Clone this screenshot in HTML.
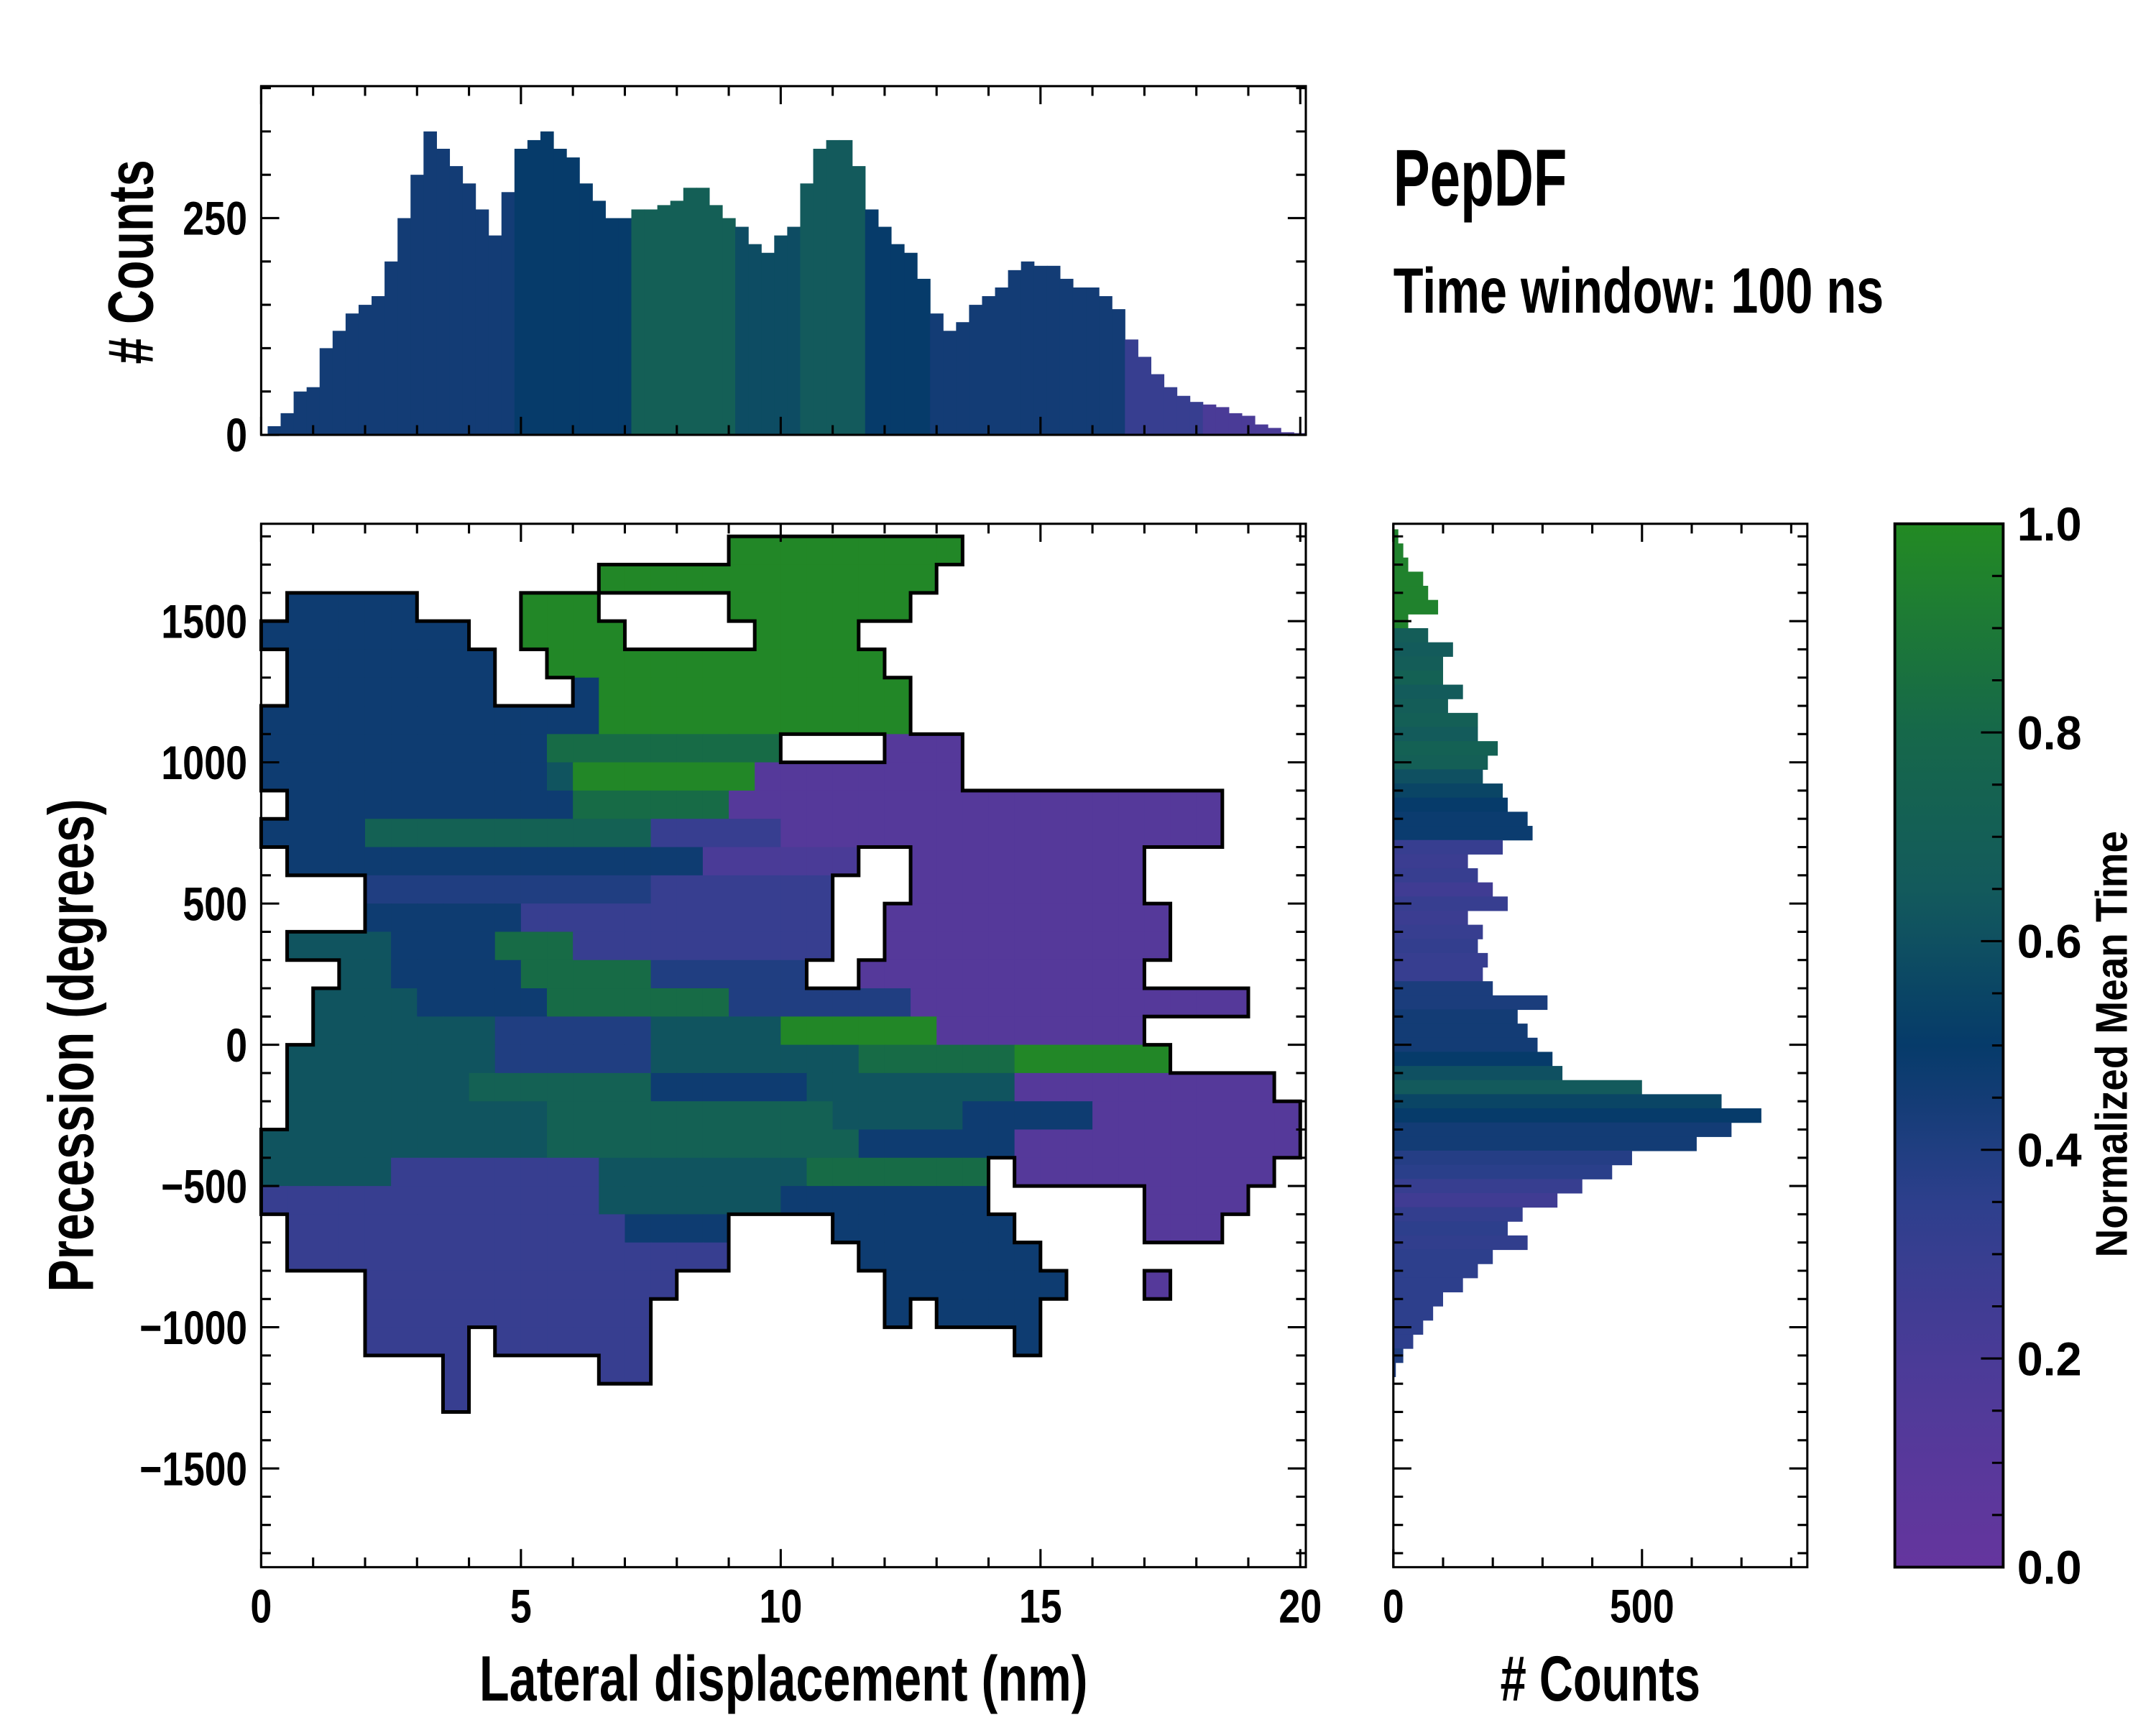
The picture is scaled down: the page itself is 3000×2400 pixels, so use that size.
<!DOCTYPE html>
<html><head><meta charset="utf-8"><style>
html,body{margin:0;padding:0;background:#fff;}
svg{display:block;}
text{font-family:"Liberation Sans Narrow","Liberation Sans",sans-serif;font-weight:bold;fill:#000;}
</style></head><body>
<svg id="fig" xmlns="http://www.w3.org/2000/svg" width="3000" height="2400" viewBox="0 0 1552 1241.6">
<rect x="0" y="0" width="1552" height="1241.6" fill="#fff"/>
<g id="heat"></g>
<g id="outline"></g>
<g id="tophist"></g>
<g id="righthist"></g>
<defs><linearGradient id="cbgrad" x1="0" y1="1" x2="0" y2="0"></linearGradient></defs>
<rect x="1364" y="377" width="78" height="751" fill="url(#cbgrad)" stroke="#000" stroke-width="2"/>
<g id="axes"></g>
<text x="1003" y="148" font-size="58" textLength="125" lengthAdjust="spacingAndGlyphs">PepDF</text>
<text x="1003" y="225" font-size="46" textLength="353" lengthAdjust="spacingAndGlyphs">Time window: 100 ns</text>
<text x="345" y="1224" font-size="46" textLength="438" lengthAdjust="spacingAndGlyphs">Lateral displacement (nm)</text>
<text transform="translate(67,930) rotate(-90)" x="0" y="0" font-size="46" textLength="355" lengthAdjust="spacingAndGlyphs">Precession (degrees)</text>
<text transform="translate(110,262) rotate(-90)" x="0" y="0" font-size="46" textLength="147" lengthAdjust="spacingAndGlyphs"># Counts</text>
<text x="1080" y="1224" font-size="46" textLength="144" lengthAdjust="spacingAndGlyphs"># Counts</text>
<text transform="translate(1531,905) rotate(-90)" x="0" y="0" font-size="32" textLength="307" lengthAdjust="spacingAndGlyphs">Normalized Mean Time</text>
</svg>
<script>
// ---------- data ----------
const heatRows = [
 [[18,26,9]],
 [[13,25,9]],
 [[1,5,5],[10,12,9],[18,24,9]],
 [[0,7,5],[10,13,9],[19,22,9]],
 [[1,8,5],[11,23,9]],
 [[1,8,5],[12,12,5],[13,24,9]],
 [[0,12,5],[13,24,9]],
 [[0,10,5],[11,19,8],[24,26,1]],
 [[0,10,5],[11,11,6],[12,18,9],[19,26,1]],
 [[1,11,5],[12,17,8],[18,36,1]],
 [[0,3,5],[4,14,7],[15,19,3],[20,36,1]],
 [[1,16,5],[17,22,2],[25,33,1]],
 [[4,14,4],[15,21,3],[25,33,1]],
 [[4,9,5],[10,21,3],[24,34,1]],
 [[1,4,6],[5,8,5],[9,11,8],[12,21,3],[24,34,1]],
 [[3,4,6],[5,9,5],[10,14,8],[15,20,4],[23,33,1]],
 [[2,5,6],[6,10,5],[11,17,8],[18,24,4],[25,37,1]],
 [[2,8,6],[9,14,4],[15,19,6],[20,25,9],[26,33,1]],
 [[1,8,6],[9,14,4],[15,22,6],[23,28,8],[29,34,9]],
 [[1,7,6],[8,14,7],[15,20,5],[21,28,6],[29,38,1]],
 [[1,10,6],[11,21,7],[22,26,6],[27,31,5],[32,39,1]],
 [[0,10,6],[11,22,7],[23,28,5],[29,39,1]],
 [[0,4,6],[5,12,3],[13,20,6],[21,27,8],[29,38,1]],
 [[0,12,3],[13,19,6],[20,27,5],[34,37,1]],
 [[1,13,3],[14,17,5],[22,28,5],[34,36,1]],
 [[1,17,3],[23,29,5]],
 [[4,15,3],[24,30,5],[34,34,1]],
 [[4,14,3],[24,24,5],[26,29,5]],
 [[4,7,3],[9,14,3],[29,29,5]],
 [[7,7,3],[13,14,3]],
 [[7,7,3]]
];
const digitValue = [0,0.12,0.2,0.3,0.4,0.47,0.62,0.72,0.82,0.98];
const topHistCounts = [0,10,25,50,55,100,120,140,150,160,200,250,300,350,330,310,290,260,230,280,330,340,350,330,320,290,270,250,250,260,260,265,270,285,285,265,250,240,220,210,230,240,290,330,340,340,310,260,240,220,210,180,140,120,130,150,160,170,190,200,195,195,180,170,170,160,145,110,90,70,55,45,38,35,32,25,22,12,8,3,2];
const topHistTime = [0.45,0.45,0.45,0.45,0.45,0.45,0.45,0.45,0.45,0.45,0.45,0.45,0.45,0.45,0.45,0.45,0.45,0.45,0.45,0.45,0.5,0.5,0.5,0.5,0.5,0.5,0.5,0.5,0.5,0.7,0.7,0.7,0.7,0.7,0.7,0.7,0.7,0.58,0.58,0.58,0.58,0.58,0.65,0.65,0.65,0.65,0.65,0.5,0.5,0.5,0.5,0.5,0.45,0.45,0.45,0.45,0.45,0.45,0.45,0.45,0.45,0.45,0.45,0.45,0.45,0.45,0.45,0.3,0.3,0.3,0.3,0.3,0.3,0.2,0.2,0.2,0.2,0.2,0.2,0.2,0.2];
const rightHistCounts = [10,20,30,60,70,90,30,70,120,100,100,140,110,170,170,210,190,180,220,230,270,280,220,150,170,200,230,150,180,170,190,180,200,310,250,270,290,320,340,500,660,740,680,610,480,440,380,330,260,230,270,200,170,140,100,80,60,40,20,5];
const rightHistTime = [0.95,0.95,0.95,0.95,0.95,0.95,0.95,0.68,0.66,0.68,0.72,0.66,0.68,0.7,0.66,0.72,0.7,0.6,0.55,0.5,0.48,0.48,0.3,0.28,0.3,0.25,0.3,0.28,0.3,0.32,0.3,0.3,0.42,0.42,0.45,0.45,0.45,0.5,0.6,0.65,0.55,0.5,0.45,0.45,0.38,0.36,0.3,0.25,0.32,0.35,0.33,0.35,0.35,0.35,0.35,0.35,0.35,0.35,0.4,0.4];
const mainXTicks = [0,5,10,15,20];
const mainYTicks = [-1500,-1000,-500,0,500,1000,1500];
const topYTicks = [0,250];
const rightXTicks = [0,500];
const cbTicks = [0.0,0.2,0.4,0.6,0.8,1.0];
const mainYLabels = ['\u22121500','\u22121000','\u2212500','0','500','1000','1500'];
const cbLabels = ['0.0','0.2','0.4','0.6','0.8','1.0'];

// ---------- scales ----------
const X = nm => 188 + nm*37.4;
const Y = deg => 752 - deg*0.2033;
const YT = c => 313 - c*0.624;
const XR = c => 1003 + c*0.358;
const YC = v => 1128 - v*751;
const stops = [[0,[101,53,158]],[0.2,[74,59,151]],[0.35,[45,63,140]],[0.5,[6,59,106]],[0.65,[19,90,92]],[0.8,[22,104,74]],[1,[35,138,35]]];
function cmap(v){
  v=Math.max(0,Math.min(1,v));
  for(let i=1;i<stops.length;i++){
    if(v<=stops[i][0]){
      const a=stops[i-1],b=stops[i],t=(v-a[0])/(b[0]-a[0]);
      const c=a[1].map((x,k)=>Math.round(x+(b[1][k]-x)*t));
      return 'rgb('+c.join(',')+')';
    }
  }
  return 'rgb(35,138,35)';
}
const NS='http://www.w3.org/2000/svg';
function mk(tag,attrs,parent){const e=document.createElementNS(NS,tag);for(const k in attrs)e.setAttribute(k,attrs[k]);parent.appendChild(e);return e;}

const grad=document.getElementById('cbgrad');
for(let i=0;i<=20;i++){mk('stop',{offset:(i/20),'stop-color':cmap(i/20)},grad);}

// ---------- heatmap ----------
const heat=document.getElementById('heat');
const outline=document.getElementById('outline');
const grid=[];
heatRows.forEach((runs,r)=>{
  grid[r]=new Array(40).fill(null);
  runs.forEach(([a,b,d])=>{for(let c=a;c<=b;c++)grid[r][c]=d;});
});
const cw=0.5, rh=100;
grid.forEach((row,r)=>{
  const degTop=1800-r*rh;
  row.forEach((d,c)=>{
    if(d===null)return;
    const el=mk('rect',{x:X(c*cw),y:Y(degTop),width:X((c+1)*cw)-X(c*cw)+0.4,height:Y(degTop-rh)-Y(degTop)+0.4,fill:cmap(digitValue[d])},heat);
    
    
  });
});
const has=(r,c)=>r>=0&&r<grid.length&&c>=0&&c<40&&grid[r][c]!==null;
let pd='';
grid.forEach((row,r)=>{
  const dt=1800-r*rh, db=dt-rh;
  row.forEach((d,c)=>{
    if(d===null)return;
    const x0=X(c*cw),x1=X((c+1)*cw),y0=Y(dt),y1=Y(db);
    if(!has(r-1,c))pd+=`M${x0},${y0}H${x1}`;
    if(!has(r+1,c))pd+=`M${x0},${y1}H${x1}`;
    if(!has(r,c-1))pd+=`M${x0},${y0}V${y1}`;
    if(!has(r,c+1))pd+=`M${x1},${y0}V${y1}`;
  });
});
const op=mk('path',{d:pd,stroke:'#000','stroke-width':2.6,fill:'none','stroke-linecap':'square'},outline);



// ---------- top histogram ----------
const th=document.getElementById('tophist');
topHistCounts.forEach((v,i)=>{
  let x0=X(i*0.25-0.125),x1=X(i*0.25+0.125);
  x0=Math.max(x0,188);x1=Math.min(x1,940);
  const el=mk('rect',{x:x0,y:YT(v),width:x1-x0+0.3,height:YT(0)-YT(v),fill:cmap(topHistTime[i])},th);
  
  
});
// ---------- right histogram ----------
const rh2=document.getElementById('righthist');
rightHistCounts.forEach((v,i)=>{
  const deg=1800-i*50;
  const el=mk('rect',{x:XR(0),y:Y(deg+25),width:XR(v)-XR(0),height:Y(deg-25)-Y(deg+25)+0.3,fill:cmap(rightHistTime[i])},rh2);
  
  
});

// ---------- axes ----------
const ax=document.getElementById('axes');
function frame(x0,y0,x1,y1,name){
  const r=mk('rect',{x:x0,y:y0,width:x1-x0,height:y1-y0,fill:'none',stroke:'#000','stroke-width':1.6},ax);
  
  
}
let tk='';
function xticks(x0,x1,y0,y1,f,vmin,vmax,major,minor){
  for(let v=vmin;v<=vmax+1e-9;v+=minor){
    const isM=Math.abs(v/major-Math.round(v/major))<1e-6;const L=isM?13:7;const x=f(v);
    if(x<x0-0.5||x>x1+0.5)continue;
    tk+=`M${x},${y1}V${y1-L}M${x},${y0}V${y0+L}`;
  }
}
function yticks(x0,x1,y0,y1,f,vmin,vmax,major,minor){
  for(let v=vmin;v<=vmax+1e-9;v+=minor){
    const isM=Math.abs(v/major-Math.round(v/major))<1e-6;const L=isM?13:7;const y=f(v);
    if(y<y0-0.5||y>y1+0.5)continue;
    tk+=`M${x0},${y}H${x0+L}M${x1},${y}H${x1-L}`;
  }
}
frame(188,377,940,1128,'main-axes');
frame(188,62,940,313,'top-hist-axes');
frame(1003,377,1301,1128,'right-hist-axes');
xticks(188,940,377,1128,X,0,20,5,1);
yticks(188,940,377,1128,Y,-1800,1800,500,100);
xticks(188,940,62,313,X,0,20,5,1);
yticks(188,940,62,313,YT,0,400,250,50);
xticks(1003,1301,377,1128,XR,0,800,500,100);
yticks(1003,1301,377,1128,Y,-1800,1800,500,100);
for(let v=0;v<=1.0001;v+=0.05){const isM=Math.abs(v*5-Math.round(v*5))<1e-6;const L=isM?16:8;tk+=`M1442,${YC(v)}H${1442-L}`;}
const tp=mk('path',{d:tk,stroke:'#000','stroke-width':1.6,fill:'none'},ax);



function label(txt,x,y,anchor,size,name){
  const t=mk('text',{x:x,y:y,'font-size':size,'text-anchor':anchor,textLength:txt.length*15.5,lengthAdjust:'spacingAndGlyphs'},ax);
  t.textContent=txt;
  
  
}
mainXTicks.forEach(v=>label(String(v),X(v),1168,'middle',34,'x-tick-label'));
mainYTicks.forEach((v,i)=>label(mainYLabels[i],178,Y(v)+12,'end',34,'y-tick-label'));
topYTicks.forEach(v=>label(String(v),178,YT(v)+12,'end',34,'top-hist-y-tick-label'));
rightXTicks.forEach(v=>label(String(v),XR(v),1168,'middle',34,'right-hist-x-tick-label'));
cbTicks.forEach((v,i)=>label(cbLabels[i],1452,YC(v)+12,'start',34,'colorbar-tick-label'));
</script>
</body></html>
